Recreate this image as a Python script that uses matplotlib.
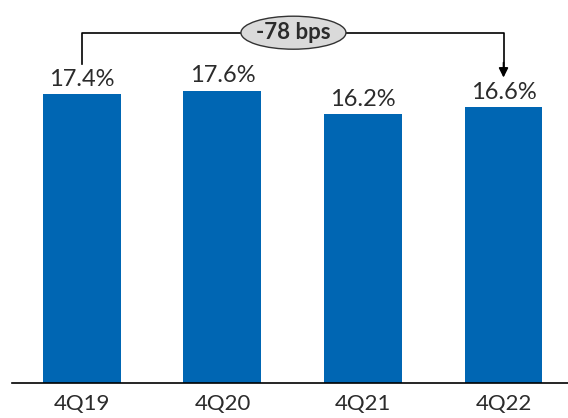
import matplotlib.pyplot as plt
from matplotlib.patches import Ellipse

quarters = ['4Q19', '4Q20', '4Q21', '4Q22']
values = [17.4, 17.6, 16.2, 16.6]
labels = ['17.4%', '17.6%', '16.2%', '16.6%']
change_text = '-78 bps'

bar_color = '#0066B3'
text_color = '#2b2b2b'
font = 'Lato'

fig = plt.figure(figsize=(5.68, 4.18), dpi=100)
ax = fig.add_axes([12 / 568, 1 - 383 / 418, 556 / 568, 383 / 418])

x = range(len(quarters))
bars = ax.bar(x, values, width=0.555, color=bar_color)

for b, lab in zip(bars, labels):
    ax.annotate(lab, (b.get_x() + b.get_width() / 2, b.get_height()),
                xytext=(0, 6), textcoords='offset points',
                ha='center', va='baseline', fontsize=17, color=text_color,
                family=font)

ax.set_xlim(-0.498, 3.459)
ax.set_ylim(0, 23.07)
ax.set_xticks(list(x))
ax.set_xticklabels(quarters, fontsize=16, color=text_color, family=font)
ax.tick_params(axis='x', length=0, pad=8)
ax.set_yticks([])
for s in ['top', 'right', 'left']:
    ax.spines[s].set_visible(False)
ax.spines['bottom'].set_color('black')
ax.spines['bottom'].set_linewidth(1.2)

# bracket from first to last quarter
line_y = 21.1
ax.plot([0, 0, 3, 3], [19.2, line_y, line_y, 19.0], color='black', lw=1.2,
        clip_on=False)
ax.annotate('', xy=(3, 18.4), xytext=(3, 19.3),
            arrowprops=dict(arrowstyle='-|>', color='black', lw=1.2,
                            mutation_scale=14, shrinkA=0, shrinkB=0))

ell = Ellipse((1.505, line_y), width=105 / 140.5, height=33 / 16.6,
              facecolor='#DADADA', edgecolor='#333333', lw=1.0, zorder=3,
              clip_on=False)
ax.add_patch(ell)
ax.text(1.505, line_y, change_text, ha='center', va='center', fontsize=16,
        fontweight='bold', color=text_color, zorder=4, family=font)

fig.savefig('out.png', dpi=100)
